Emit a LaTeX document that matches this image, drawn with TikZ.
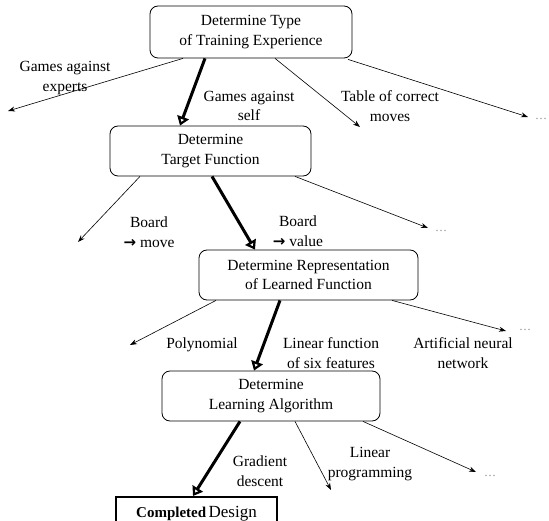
\documentclass[tikz,border=0pt]{standalone}
\usepackage{fontspec}
\setmainfont{Liberation Serif}
\newfontfamily\arrowfont{DejaVu Sans}
\usetikzlibrary{arrows.meta}
\newcommand{\rarr}{{\arrowfont\bfseries\fontsize{15pt}{18pt}\selectfont →}}
\begin{document}
\begin{tikzpicture}[x=1pt,y=-1pt,
  stagebox/.style={draw, rounded corners=8pt, line width=0.8pt, align=center, inner sep=0pt,
    font=\fontsize{15.5pt}{19.5pt}\selectfont},
  lbl/.style={align=center, inner sep=0pt, font=\fontsize{15.5pt}{19.5pt}\selectfont},
  dotsl/.style={text=black!45, inner sep=0pt, font=\fontsize{12pt}{12pt}\selectfont},
  thin/.style={line width=0.6pt, -{Stealth[length=7pt,width=5pt]}},
  chosen/.style={line width=3pt, -{Triangle[open,length=9pt,width=12pt,line width=2.2pt]}}
]
\clip (0,0) rectangle (549,521);
\fill[white] (0,0) rectangle (549,521);

% stage boxes
\node[stagebox, minimum width=202pt, minimum height=52pt] (b1) at (251,32) {Determine Type\\of Training Experience};
\node[stagebox, minimum width=201pt, minimum height=50pt] (b2) at (210.5,151) {Determine\\Target Function};
\node[stagebox, minimum width=219pt, minimum height=50pt] (b3) at (308.5,275) {Determine Representation\\of Learned Function};
\node[stagebox, minimum width=218pt, minimum height=50pt] (b4) at (271,396) {Determine\\Learning Algorithm};
\node[draw, line width=2.2pt, minimum width=161pt, minimum height=34pt, anchor=north, inner sep=0pt] (done) at (196.5,496)
  {{\fontsize{15pt}{18pt}\selectfont\bfseries Completed} {\fontsize{17pt}{20pt}\selectfont Design}};

% free ends
\coordinate (e1a) at (8,111);
\coordinate (e1c) at (360,127);
\coordinate (e1d) at (528,117);
\coordinate (e2a) at (78,242);
\coordinate (e2c) at (428,228);
\coordinate (e3a) at (130,345);
\coordinate (e3c) at (506,331);
\coordinate (e4b) at (331,490);
\coordinate (e4c) at (476,472);

% dots
\node[dotsl] (d1) at (541,119) {\ldots};
\node[dotsl] (d2) at (441,231) {\ldots};
\node[dotsl] (d3) at (525,330) {\ldots};
\node[dotsl] (d4) at (490,476) {\ldots};

% connectors from b1
\draw[thin] ([xshift=-68pt]b1.south) -- (e1a);
\draw[chosen] ([xshift=-46pt]b1.south) -- ([xshift=-30.5pt]b2.north);
\draw[thin] ([xshift=24pt]b1.south) -- (e1c);
\draw[thin] ([xshift=97pt,yshift=-1pt]b1.south) -- (e1d);

% from b2
\draw[thin] ([xshift=-70.5pt]b2.south) -- (e2a);
\draw[chosen] ([xshift=1.5pt]b2.south) -- ([xshift=-53.5pt]b3.north);
\draw[thin] ([xshift=84.5pt]b2.south) -- (e2c);

% from b3
\draw[thin] ([xshift=-92.5pt]b3.south) -- (e3a);
\draw[chosen] ([xshift=-28.5pt]b3.south) -- ([xshift=-17pt]b4.north);
\draw[thin] ([xshift=83.5pt]b3.south) -- (e3c);

% from b4
\draw[chosen] ([xshift=-31pt]b4.south) -- ([xshift=-3.5pt]done.north);
\draw[thin] ([xshift=24pt]b4.south) -- (e4b);
\draw[thin] ([xshift=92pt]b4.south) -- (e4c);

% labels
\node[lbl] (l1) at (65,78) {Games against\\experts};
\node[lbl] (l2) at (249,106) {Games against\\self};
\node[lbl] (l3) at (390,106) {Table of correct\\moves};
\node[lbl] (l4) at (149,232) {Board\\\rarr\ move};
\node[lbl] (l5) at (298,231) {Board\\\rarr\ value};
\node[lbl] (l6) at (202,345) {Polynomial};
\node[lbl] (l7) at (331,353) {Linear function\\of six features};
\node[lbl] (l8) at (463,353) {Artificial neural\\network};
\node[lbl] (l9) at (260,471) {Gradient\\descent};
\node[lbl] (l10) at (370,464) {Linear\\programming};
\end{tikzpicture}
\end{document}
